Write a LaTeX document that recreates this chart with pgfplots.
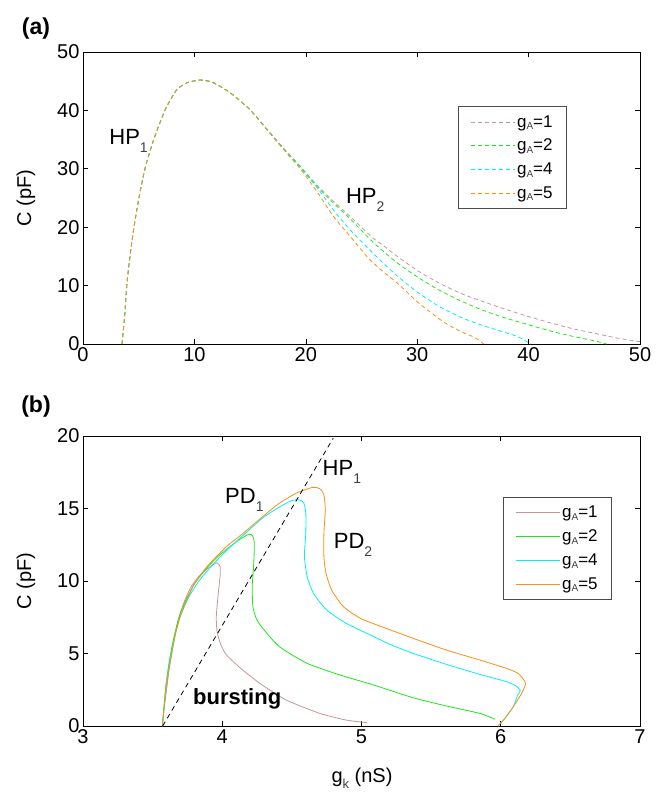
\documentclass[border=0pt]{standalone}
\usepackage{graphicx}
\usepackage{fontspec}
\setmainfont{Liberation Sans}
\usepackage{pgfplots}
\pgfplotsset{compat=1.18}

\definecolor{cP}{RGB}{200,150,150}
\definecolor{cG}{RGB}{30,230,30}
\definecolor{cC}{RGB}{0,240,240}
\definecolor{cO}{RGB}{255,140,20}

% lowered small subscript: size, drop, text
\newcommand{\sub}[3]{\raisebox{-#2pt}{\fontsize{#1}{#1}\selectfont\color{black!75}#3}}

\pgfplotsset{
  panel/.style={
    scale only axis, width=557pt,
    tick align=inside, major tick length=5pt,
    every tick/.style={black, line width=0.6pt},
    axis line style={black, line width=0.7pt},
    ticklabel style={font=\fontsize{20}{22}\selectfont},
    /pgf/number format/assume math mode=true,
    legend cell align=left,
    legend style={draw=black!70, fill=white, line width=0.7pt,
      font=\fontsize{17}{19}\selectfont, inner xsep=12pt, inner ysep=7pt,
      row sep=6.5pt, anchor=north west, nodes={inner sep=2pt},
      /tikz/every even column/.append style={column sep=9pt}},
  },
  % dashed legend sample in a fixed colour
  dashkey/.style={legend image code/.code={%
    \draw[draw=#1, line width=0.9pt, dash pattern=on 4pt off 3pt] (0pt,0pt) -- (44pt,0pt);}},
}

\begin{document}
\begin{tikzpicture}
\path[use as bounding box] (0pt,0pt) rectangle (664pt,-794pt);

% ---------------- (a) Hopf boundaries ----------------
\begin{axis}[panel, at={(83pt,-344pt)}, anchor=south west, height=292pt,
  xmin=0, xmax=50, ymin=0, ymax=50,
  xtick={0,10,...,50}, ytick={0,10,...,50},
  legend style={at={(0.673,0.815)}}]
\addlegendimage{dashkey=cP}
\addlegendentry{g\sub{10}{2.5}{A}=1}
\addlegendimage{dashkey=cG}
\addlegendentry{g\sub{10}{2.5}{A}=2}
\addlegendimage{dashkey=cC}
\addlegendentry{g\sub{10}{2.5}{A}=4}
\addlegendimage{dashkey=cO}
\addlegendentry{g\sub{10}{2.5}{A}=5}
\addplot[forget plot, color=cP, line width=0.8pt, dash pattern=on 4pt off 3pt, smooth, tension=0.4] coordinates {
 (3.5,0) (3.6,2) (3.75,5) (3.95,10.5) (4.25,15.5) (4.6,20.3) (5.05,25.3)
 (5.6,30.3) (6.4,35.3) (7.4,40.2) (8.4,43.5) (9.3,44.7) (10.45,45.2)
 (11.5,44.9) (12.5,43.9) (13.5,42.6) (15.0,40.1) (16.5,36.8) (18.0,33.5)
 (19.5,30.4) (21.0,27.2) (22.5,24.4) (24.0,21.8) (26,18.2) (27,16.8)
 (28,15.3) (30,12.6) (32,10.4) (34,8.6) (36,7.2) (38,5.9) (40,4.7)
 (42,3.6) (44,2.6) (46,1.8) (48,1.0) (50,0.4)};
\addplot[forget plot, color=cG, line width=0.8pt, dash pattern=on 4pt off 3pt, smooth, tension=0.4] coordinates {
 (3.5,0) (3.6,2) (3.75,5) (3.95,10.5) (4.25,15.5) (4.6,20.3) (5.05,25.3)
 (5.6,30.3) (6.4,35.3) (7.4,40.2) (8.4,43.5) (9.3,44.7) (10.45,45.2)
 (11.5,44.9) (12.5,43.9) (13.5,42.6) (15.0,40.1) (16.5,36.8) (18.0,33.5)
 (19.5,30.4) (21.0,27.0) (22.5,24.1) (24.0,21.4) (26,17.5) (28,14.2)
 (30,11.5) (32,9.2) (34,7.3) (36,5.7) (38,4.4) (40,3.3) (42,2.2)
 (44,1.3) (46,0.5) (47,0)};
\addplot[forget plot, color=cC, line width=0.8pt, dash pattern=on 4pt off 3pt, smooth, tension=0.4] coordinates {
 (3.5,0) (3.6,2) (3.75,5) (3.95,10.5) (4.25,15.5) (4.6,20.3) (5.05,25.3)
 (5.6,30.3) (6.4,35.3) (7.4,40.2) (8.4,43.5) (9.3,44.7) (10.45,45.2)
 (11.5,44.9) (12.5,43.9) (13.5,42.6) (15.0,40.1) (16.5,36.8) (18.0,33.4)
 (19.5,30.2) (21.0,26.8) (22.5,22.9) (24.0,19.5) (26,15.6) (28,12.0)
 (30,8.9) (32,6.4) (34,4.5) (36,3.1) (38,1.9) (39.1,1.2) (40.2,0)};
\addplot[forget plot, color=cO, line width=0.8pt, dash pattern=on 4pt off 3pt, smooth, tension=0.4] coordinates {
 (3.5,0) (3.6,2) (3.75,5) (3.95,10.5) (4.25,15.5) (4.6,20.3) (5.05,25.3)
 (5.6,30.3) (6.4,35.3) (7.4,40.2) (8.4,43.5) (9.3,44.7) (10.45,45.2)
 (11.5,44.9) (12.5,43.9) (13.5,42.6) (15.0,40.1) (16.5,36.7) (18.0,33.3)
 (19.5,30.0) (21.0,26.1) (22.5,21.8) (24.0,18.4) (25.5,14.95) (26.56,13.0)
 (28.35,10.2) (30.14,7.0) (32.5,3.6) (34.3,1.8) (35.2,1.1) (35.96,0)};
\node[anchor=base west, font=\fontsize{22}{24}\selectfont, inner sep=0pt]
  at (axis cs:2.35,34.1) {HP\sub{14}{8}{1}};
\node[anchor=base west, font=\fontsize{22}{24}\selectfont, inner sep=0pt]
  at (axis cs:23.6,24.0) {HP\sub{14}{8}{2}};
\end{axis}

% ---------------- (b) period-doubling boundaries ----------------
\begin{axis}[panel, at={(83pt,-726pt)}, anchor=south west, height=290pt,
  xmin=3, xmax=7, ymin=0, ymax=20,
  xtick={3,4,5,6,7}, ytick={0,5,10,15,20},
  legend image code/.code={\draw[line width=0.8pt, #1] (0pt,0pt) -- (44pt,0pt);},
  legend style={at={(0.754,0.790)}}]
\addlegendimage{cP}
\addlegendentry{g\sub{10}{2.5}{A}=1}
\addlegendimage{cG}
\addlegendentry{g\sub{10}{2.5}{A}=2}
\addlegendimage{cC}
\addlegendentry{g\sub{10}{2.5}{A}=4}
\addlegendimage{cO}
\addlegendentry{g\sub{10}{2.5}{A}=5}
\addplot[forget plot, color=cP, line width=0.8pt, smooth, tension=0.35] coordinates {
 (3.57,0) (3.58,1) (3.60,2.5) (3.62,4) (3.65,5.7) (3.68,7.2) (3.72,8.4)
 (3.77,9.5) (3.83,10.3) (3.90,10.9) (3.96,11.25) (3.985,11.0) (3.985,10.4)
 (3.975,9.5) (3.965,8.5) (3.957,7.5) (3.963,6.5) (3.99,5.6) (4.03,4.9)
 (4.13,4.0) (4.27,2.94) (4.46,1.79) (4.70,0.87) (4.89,0.41) (5.04,0.23)};
\addplot[forget plot, color=cG, line width=0.8pt, smooth, tension=0.35] coordinates {
 (3.57,0) (3.58,1.2) (3.595,2.8) (3.62,4.5) (3.65,6.0) (3.69,7.5) (3.74,8.7)
 (3.80,9.8) (3.88,10.8) (3.97,11.7) (4.06,12.4) (4.13,12.9) (4.19,13.22)
 (4.215,13.15) (4.228,12.8) (4.23,12.2) (4.225,11.0) (4.215,9.6) (4.22,8.23)
 (4.245,7.4) (4.29,6.75) (4.41,5.47) (4.61,4.32) (4.845,3.52) (5.08,2.85)
 (5.37,1.95) (5.61,1.38) (5.85,0.87) (5.96,0.46)};
\addplot[forget plot, color=cC, line width=0.8pt, smooth, tension=0.35] coordinates {
 (3.57,0) (3.585,1.5) (3.60,3.0) (3.625,4.6) (3.66,6.2) (3.70,7.6) (3.76,8.9)
 (3.84,10.1) (3.93,11.1) (4.03,12.1) (4.15,13.15) (4.29,14.35) (4.41,15.1)
 (4.50,15.55) (4.55,15.6) (4.585,15.4) (4.60,14.7) (4.60,13.3) (4.59,11.7)
 (4.61,10.3) (4.655,9.15) (4.75,8.0) (4.89,7.08) (5.08,6.2) (5.20,5.65)
 (5.37,5.01) (5.61,4.25) (5.85,3.56) (6.04,3.06) (6.11,2.76) (6.14,2.45)
 (6.12,2.1) (6.09,1.33) (6.03,0.53) (5.98,0)};
\addplot[forget plot, color=cO, line width=0.8pt, smooth, tension=0.35] coordinates {
 (3.57,0) (3.58,1.0) (3.595,2.5) (3.62,4.1) (3.665,6.4) (3.70,7.6) (3.75,8.8)
 (3.80,9.8) (3.89,10.99) (4.03,12.37) (4.15,13.29) (4.29,14.44) (4.41,15.36)
 (4.53,16.05) (4.65,16.46) (4.70,16.37) (4.73,15.93) (4.74,14.9) (4.73,13.29)
 (4.73,11.68) (4.745,10.53) (4.785,9.38) (4.87,8.23) (4.99,7.43) (5.13,6.9)
 (5.37,6.05) (5.61,5.24) (5.85,4.55) (6.04,3.98) (6.125,3.63) (6.166,3.17)
 (6.178,2.9) (6.15,2.25) (6.09,1.33) (6.03,0.53) (5.98,0)};
\addplot[forget plot, black, line width=0.8pt, dash pattern=on 5pt off 4pt]
  coordinates {(3.572,0) (4.797,19.85)};
\node[anchor=base west, font=\fontsize{22}{24}\selectfont, inner sep=0pt]
  at (axis cs:4.02,15.36) {PD\sub{14}{8}{1}};
\node[anchor=base west, font=\fontsize{22}{24}\selectfont, inner sep=0pt]
  at (axis cs:4.72,17.31) {HP\sub{14}{8}{1}};
\node[anchor=base west, font=\fontsize{22}{24}\selectfont, inner sep=0pt]
  at (axis cs:4.80,12.25) {PD\sub{14}{8}{2}};
\node[anchor=base west, font=\bfseries\fontsize{22}{24}\selectfont, inner sep=0pt]
  at (axis cs:3.79,1.45) {bursting};
\end{axis}

% panel tags and axis titles
\node[font=\bfseries\fontsize{23}{25}\selectfont] at (36pt,-29pt) {(a)};
\node[font=\bfseries\fontsize{23}{25}\selectfont] at (36pt,-407pt) {(b)};
\node[rotate=90, font=\fontsize{20}{22}\selectfont] at (26pt,-198pt) {C (pF)};
\node[rotate=90, font=\fontsize{20}{22}\selectfont] at (26pt,-581pt) {C (pF)};
\node[font=\fontsize{20}{22}\selectfont] at (362pt,-778pt) {g\sub{13}{6}{k} (nS)};
\end{tikzpicture}
\end{document}
